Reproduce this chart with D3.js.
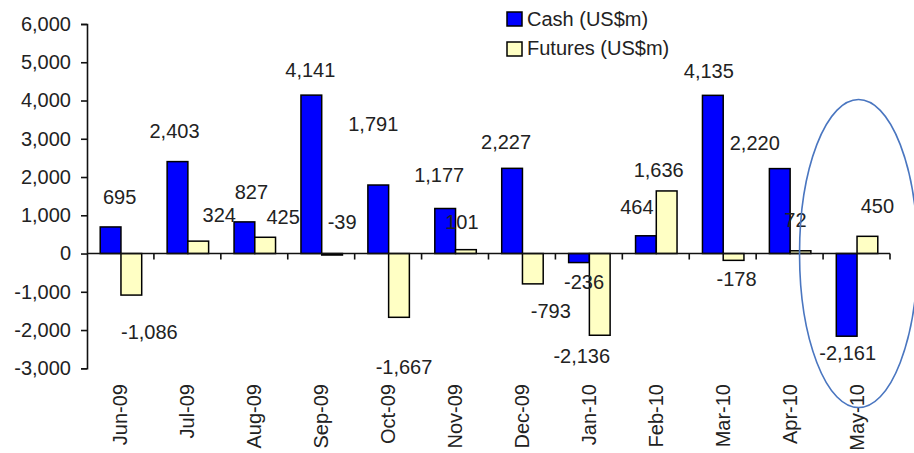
<!DOCTYPE html>
<html>
<head>
<meta charset="utf-8">
<script src="https://cdn.jsdelivr.net/npm/d3@7"></script>
<style>
  body { margin: 0; background: #fff; }
  svg text { font-family: "Liberation Sans", Arial, sans-serif; fill: #222; }
</style>
</head>
<body>
<script>
// chart values
var months = ["Jun-09", "Jul-09", "Aug-09", "Sep-09", "Oct-09", "Nov-09", "Dec-09", "Jan-10", "Feb-10", "Mar-10", "Apr-10", "May-10"];
var cash = [695, 2403, 827, 4141, 1791, 1177, 2227, -236, 464, 4135, 2220, -2161];
var futures = [-1086, 324, 425, -39, -1667, 101, -793, -2136, 1636, -178, 72, 450];
var yTicks = [-3000, -2000, -1000, 0, 1000, 2000, 3000, 4000, 5000, 6000];
var seriesNames = ["Cash (US$m)", "Futures (US$m)"];

(function(){
// small nudges so the data labels sit where the original put them
var cashNudge = [[9,-2],[-3,-3],[7,-2],[-1,3],[-5,-33],[-6,-6],[-6,2],[5,-3],[-9,-1],[-4,4],[-25,2],[1,-5]];
var futNudge = [[18,15],[21,2],[18,8],[10,-55],[5,28],[-4,0],[18,5],[-18,-1],[-8,7],[3,-3],[-5,-3],[10,-2]];

var width = 914, height = 453;
var plotL = 87, plotR = 890, plotT = 24, plotB = 368.3;
var colors = ["#0000ff", "#ffffc4"];

var fmt = function(v){ return d3.format(",")(v).replace("\u2212", "-"); };

var svg = d3.select("body").append("svg")
    .attr("width", width)
    .attr("height", height);

var x = d3.scaleBand().domain(months).range([plotL, plotR]).padding(0);
var y = d3.scaleLinear().domain([-3000, 6000]).range([plotB, plotT]);
var bw = x.bandwidth() * 0.31;
var gOff = (x.bandwidth() - 2 * bw) / 2 + 0.5;

// y axis
var yAxis = svg.append("g")
    .attr("transform", "translate(" + plotL + ",0)")
    .call(d3.axisLeft(y).tickValues(yTicks).tickFormat(fmt).tickSize(6).tickPadding(10));
yAxis.select(".domain").attr("stroke", "#111").attr("stroke-width", 1.6);
yAxis.selectAll(".tick line").attr("stroke", "#111").attr("stroke-width", 1.6);
yAxis.selectAll("text").attr("font-size", 20).attr("fill", "#222")
    .style("font-family", "'Liberation Sans', Arial, sans-serif");

// bars
var rows = months.map(function(m, i){ return {m: m, i: i, vals: [cash[i], futures[i]]}; });

rows.forEach(function(r){
  r.vals.forEach(function(v, s){
    svg.append("rect")
      .attr("x", x(r.m) + gOff + s * bw)
      .attr("y", y(Math.max(0, v)))
      .attr("width", bw)
      .attr("height", Math.abs(y(v) - y(0)))
      .attr("fill", colors[s])
      .attr("stroke", "#000")
      .attr("stroke-width", 1.5);
  });
});

// x axis on the zero line, ticks between categories
var bounds = months.map(function(m){ return x(m); }).concat([plotR]);
var xAxis = svg.append("g");
xAxis.append("line")
    .attr("x1", plotL).attr("x2", plotR)
    .attr("y1", y(0)).attr("y2", y(0))
    .attr("stroke", "#111").attr("stroke-width", 1.6);
xAxis.selectAll(".xt").data(bounds.slice(1)).enter().append("line")
    .attr("x1", function(d){ return d; }).attr("x2", function(d){ return d; })
    .attr("y1", y(0)).attr("y2", y(0) + 6)
    .attr("stroke", "#111").attr("stroke-width", 1.6);

// category labels, rotated
svg.selectAll(".cat").data(months).enter().append("text")
    .attr("transform", function(d){ return "translate(" + (x(d) + x.bandwidth() / 2) + ",384) rotate(-90)"; })
    .attr("text-anchor", "end")
    .attr("dy", "0.35em")
    .attr("font-size", 20)
    .text(function(d){ return d; });

// data labels
function labelPos(v, i, s, nudge){
  var cx = x(months[i]) + gOff + s * bw + bw / 2;
  var cy = v >= 0 ? y(v) - 28 : y(v) + 22;
  return [cx + nudge[i][0], cy + nudge[i][1]];
}
[cash, futures].forEach(function(arr, s){
  var nudge = s === 0 ? cashNudge : futNudge;
  arr.forEach(function(v, i){
    var p = labelPos(v, i, s, nudge);
    svg.append("text")
      .attr("x", p[0]).attr("y", p[1])
      .attr("dy", "0.35em")
      .attr("text-anchor", "middle")
      .attr("font-size", 20)
      .text(fmt(v));
  });
});

// legend
var legend = svg.append("g");
seriesNames.forEach(function(name, s){
  legend.append("rect")
    .attr("x", 507).attr("y", 12 + s * 30)
    .attr("width", 15).attr("height", 14)
    .attr("fill", colors[s])
    .attr("stroke", "#000").attr("stroke-width", 1.5);
  legend.append("text")
    .attr("x", 527).attr("y", 19 + s * 29)
    .attr("dy", "0.35em")
    .attr("font-size", 20)
    .text(name);
});

// highlight ring around the latest month
svg.append("ellipse")
    .attr("cx", x("May-10") + x.bandwidth() / 2 + 2)
    .attr("cy", y(0))
    .attr("rx", 59)
    .attr("ry", 154)
    .attr("fill", "none")
    .attr("stroke", "#4a76c0")
    .attr("stroke-width", 1.6);
})();
</script>
</body>
</html>
